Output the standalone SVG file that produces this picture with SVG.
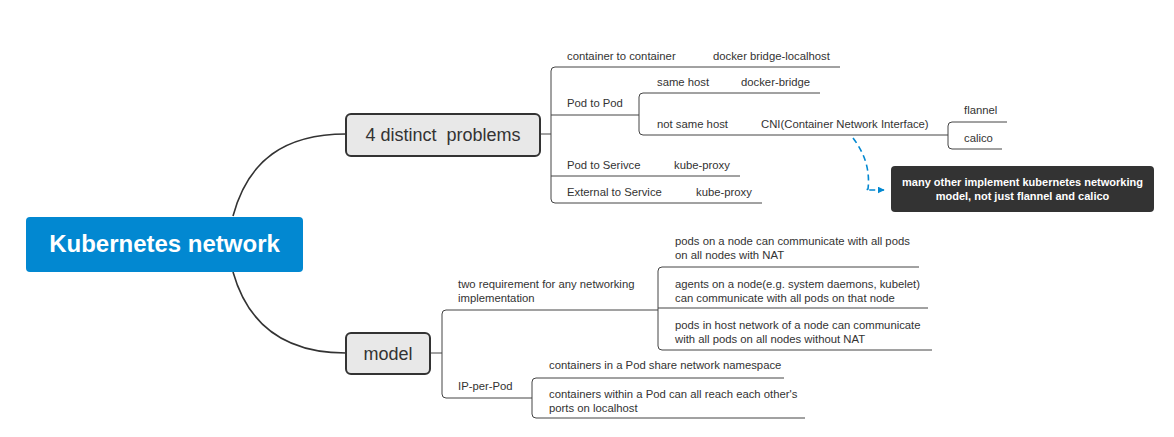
<svg xmlns="http://www.w3.org/2000/svg" width="1174" height="437" viewBox="0 0 1174 437">
<defs>
<style>
.t{font-family:"Liberation Sans",Arial,sans-serif;font-size:11.3px;fill:#333}
.topic{font-family:"Liberation Sans",Arial,sans-serif;font-size:18px;fill:#333;text-anchor:middle;white-space:pre}
.ln{fill:none;stroke:#444;stroke-width:1}
.main{fill:none;stroke:#333;stroke-width:1.6}
.box{fill:#e8e8e8;stroke:#333;stroke-width:2}
</style>
<marker id="ah" viewBox="0 0 10 10" refX="9" refY="5" markerWidth="7" markerHeight="7" orient="auto" markerUnits="userSpaceOnUse">
<path d="M0,0 L10,5 L0,10 z" fill="#0288d1"/>
</marker>
</defs>
<rect width="1174" height="437" fill="#fff"/>
<g id="connectors">
<path class="main" d="M233,216 C248,160 285,134 346,134"/>
<path class="main" d="M233,272 C248,325 285,353 346,353"/>
<path class="ln" d="M540,134 H551"/>
<path class="ln" d="M430,353 H442"/>
<path class="ln" d="M840,67 H555 Q551,67 551,71 V199 Q551,203 555,203 H762"/>
<path class="ln" d="M551,115 H639"/>
<path class="ln" d="M551,176 H740"/>
<path class="ln" d="M820,93 H643 Q639,93 639,97 V131 Q639,135 643,135 H948"/>
<path class="ln" d="M1007,122 H952 Q948,122 948,126 V145 Q948,149 952,149 H1002"/>
<path class="ln" d="M658,310 H446 Q442,310 442,314 V394 Q442,398 446,398 H532"/>
<path class="ln" d="M919,267 H662 Q658,267 658,271 V346 Q658,350 662,350 H932"/>
<path class="ln" d="M658,308 H928"/>
<path class="ln" d="M784,378 H536 Q532,378 532,382 V414 Q532,418 536,418 H805"/>
<path d="M853,138 C866,155 870,172 868,189 L866,190 H884" fill="none" stroke="#0288d1" stroke-width="1.6" stroke-dasharray="6,4" marker-end="url(#ah)"/>
</g>
<g id="root">
<rect x="26" y="217" width="277" height="55" rx="4" fill="#0288d1"/>
<text x="164.5" y="252" font-family="Liberation Sans,Arial,sans-serif" font-size="24" font-weight="bold" fill="#fff" text-anchor="middle">Kubernetes network</text>
</g>
<g id="problems">
<rect class="box" x="346" y="114" width="194" height="42" rx="5"/>
<text class="topic" x="443" y="141" xml:space="preserve">4 distinct  problems</text>
</g>
<g id="model">
<rect class="box" x="346" y="333" width="84" height="41" rx="5"/>
<text class="topic" x="388" y="360">model</text>
</g>
<g id="c2c"><text class="t" x="567" y="60">container to container</text></g>
<g id="c2c-v"><text class="t" x="713" y="60">docker bridge-localhost</text></g>
<g id="p2p"><text class="t" x="567" y="107">Pod to Pod</text></g>
<g id="same"><text class="t" x="657" y="86">same host</text></g>
<g id="same-v"><text class="t" x="741" y="86">docker-bridge</text></g>
<g id="notsame"><text class="t" x="657" y="128">not same host</text></g>
<g id="cni"><text class="t" x="761" y="128">CNI(Container Network Interface)</text></g>
<g id="flannel"><text class="t" x="964" y="114">flannel</text></g>
<g id="calico"><text class="t" x="964" y="142">calico</text></g>
<g id="p2s"><text class="t" x="567" y="169">Pod to Serivce</text></g>
<g id="p2s-v"><text class="t" x="674" y="169">kube-proxy</text></g>
<g id="e2s"><text class="t" x="567" y="196">External to Service</text></g>
<g id="e2s-v"><text class="t" x="696" y="196">kube-proxy</text></g>
<g id="note">
<rect x="891" y="166" width="263" height="46" rx="4" fill="#333"/>
<text x="1022.5" y="186" font-family="Liberation Sans,Arial,sans-serif" font-size="11" font-weight="bold" fill="#fff" text-anchor="middle">many other implement kubernetes networking</text>
<text x="1022.5" y="200" font-family="Liberation Sans,Arial,sans-serif" font-size="11" font-weight="bold" fill="#fff" text-anchor="middle">model, not just flannel and calico</text>
</g>
<g id="tworeq"><text class="t" x="458" y="288">two requirement for any networking</text><text class="t" x="458" y="302">implementation</text></g>
<g id="req1"><text class="t" x="675" y="245">pods on a node can communicate with all pods</text><text class="t" x="675" y="259">on all nodes with NAT</text></g>
<g id="req2"><text class="t" x="675" y="288">agents on a node(e.g. system daemons, kubelet)</text><text class="t" x="675" y="302">can communicate with all pods on that node</text></g>
<g id="req3"><text class="t" x="675" y="329">pods in host network of a node can communicate</text><text class="t" x="675" y="343">with all pods on all nodes without NAT</text></g>
<g id="ippp"><text class="t" x="458" y="390">IP-per-Pod</text></g>
<g id="ip1"><text class="t" x="549" y="369">containers in a Pod share network namespace</text></g>
<g id="ip2"><text class="t" x="549" y="398">containers within a Pod can all reach each other's</text><text class="t" x="549" y="412">ports on localhost</text></g>
</svg>
